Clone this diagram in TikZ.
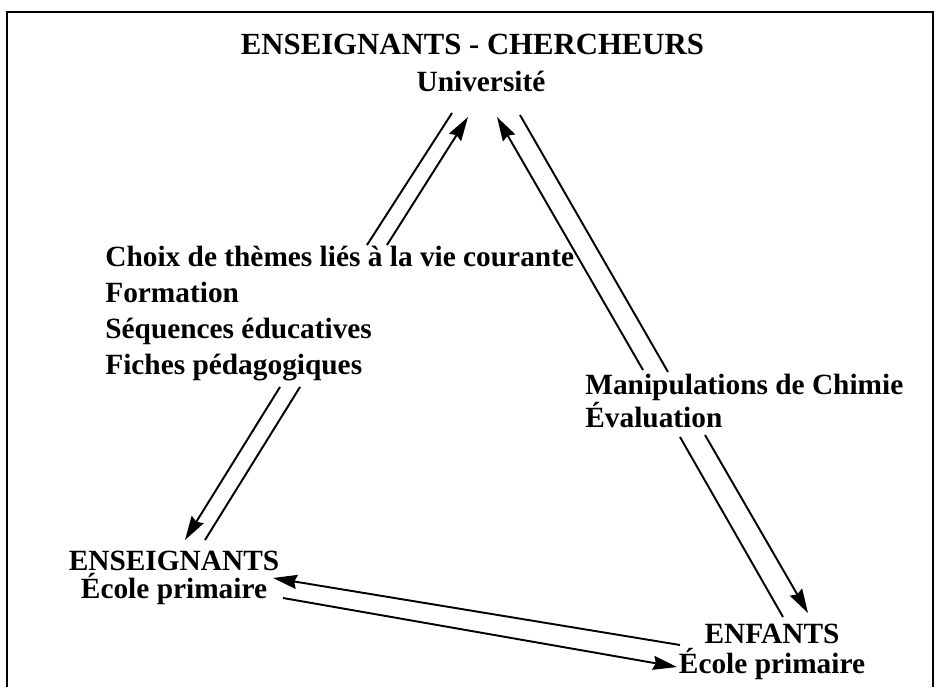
\documentclass[tikz,border=0pt]{standalone}
\usepackage{fontspec}
\setmainfont{Liberation Serif}
\usetikzlibrary{arrows.meta}
\usetikzlibrary{positioning}

\begin{document}
\begin{tikzpicture}[
    txt/.style={font=\bfseries\fontsize{16.7}{20}\selectfont, inner sep=0pt},
    flow/.style={line width=1.1pt},
    head/.style={flow, -{Stealth[length=4.8mm, width=2.8mm, inset=0.5mm]}}
]
    \useasboundingbox (0,0) rectangle (18.8,13.74);

    % 1. Frame round the scheme (open at the bottom)
    \draw[line width=1.2pt] (0.14,0) -- (0.14,13.5) -- (18.66,13.5) -- (18.66,0);

    % 2. Top pole: university
    \node[txt, anchor=base, font=\bfseries\fontsize{17.5}{20}\selectfont] (cherch) at (9.45,12.64) {ENSEIGNANTS - CHERCHEURS};
    \node[txt, anchor=base] (univ) at (9.62,11.90) {Université};

    % 3. Bottom poles: teachers and children
    \node[txt, anchor=base] (ens) at (3.48,2.34) {ENSEIGNANTS};
    \node[txt, anchor=base] (ensecole) at (3.48,1.78) {École primaire};
    \node[txt, anchor=base] (enf) at (15.44,0.88) {ENFANTS};
    \node[txt, anchor=base] (enfecole) at (15.44,0.28) {École primaire};

    % 4. Themes on the left side
    \foreach \t [count=\i from 0] in {Choix de thèmes liés à la vie courante, Formation, Séquences éducatives, Fiches pédagogiques} {
        \node[txt, anchor=base west] (theme\i) at (2.1,8.40-0.72*\i) {\t};
    }

    % 5. Activities on the right side
    \node[txt, anchor=base west] (manip) at (11.70,5.84) {Manipulations de Chimie};
    \node[txt, anchor=base west] (eval) at (11.70,5.18) {Évaluation};

    % 6. Ends of the double connectors
    \coordinate (ulAa) at (7.34,8.84);  \coordinate (ulAb) at (9.04,11.48);
    \coordinate (ulBa) at (7.74,8.84);  \coordinate (ulBb) at (9.36,11.40);
    \coordinate (urCa) at (12.86,6.34); \coordinate (urCb) at (9.94,11.40);
    \coordinate (urDa) at (10.40,11.44); \coordinate (urDb) at (13.36,6.30);
    \coordinate (lrEa) at (13.60,5.00); \coordinate (lrEb) at (15.66,1.40);
    \coordinate (lrFa) at (14.10,5.04); \coordinate (lrFb) at (16.16,1.48);
    \coordinate (llGa) at (5.60,6.00);  \coordinate (llGb) at (3.70,2.94);
    \coordinate (llHa) at (6.00,6.00);  \coordinate (llHb) at (4.10,2.94);
    \coordinate (btIa) at (13.60,0.84); \coordinate (btIb) at (5.46,2.18);
    \coordinate (btJa) at (5.66,1.78);  \coordinate (btJb) at (13.54,0.40);

    % 7. Themes <-> university
    \draw[flow] (ulAa) -- (ulAb);
    \draw[head] (ulBa) -- (ulBb);

    % 8. University <-> activities
    \draw[head] (urCa) -- (urCb);
    \draw[flow] (urDa) -- (urDb);

    % 9. Activities <-> children
    \draw[flow] (lrEa) -- (lrEb);
    \draw[head] (lrFa) -- (lrFb);

    % 10. Themes <-> teachers
    \draw[head] (llGa) -- (llGb);
    \draw[flow] (llHa) -- (llHb);

    % 11. Teachers <-> children
    \draw[head] (btIa) -- (btIb);
    \draw[head] (btJa) -- (btJb);

\end{tikzpicture}
\end{document}
